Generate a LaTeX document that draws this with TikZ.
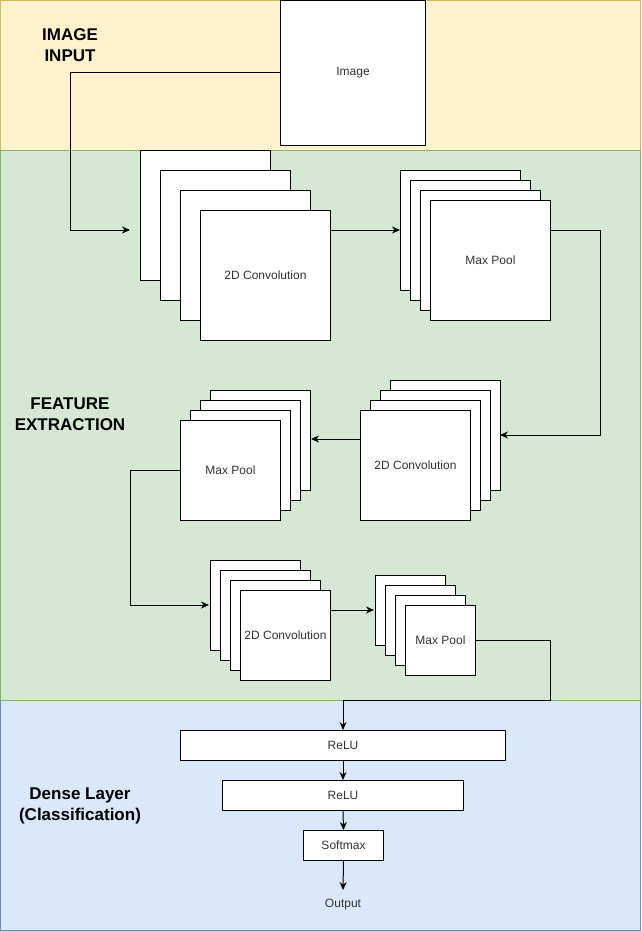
\documentclass[tikz,border=0pt]{standalone}
\usepackage{fontspec}
\setmainfont{Liberation Sans}
\usetikzlibrary{arrows.meta,calc}
\definecolor{yband}{HTML}{FFF2CC}\definecolor{yline}{HTML}{D6B656}
\definecolor{gband}{HTML}{D5E8D4}\definecolor{gline}{HTML}{82B366}
\definecolor{bband}{HTML}{DAE8FC}\definecolor{bline}{HTML}{6C8EBF}
\definecolor{lbl}{HTML}{333333}
\tikzset{
  box/.style={draw=black, fill=white, line width=1pt, inner sep=0pt, anchor=north west,
    text=lbl, font=\fontsize{12}{14}\selectfont},
  band/.style={line width=1pt},
  header/.style={font=\fontsize{17}{21}\selectfont\bfseries, align=center, text=black},
  arr/.style={line width=1pt, -{Stealth[length=8pt,width=7pt]}},
  plain/.style={text=lbl, font=\fontsize{12}{14}\selectfont, inner sep=0pt}
}
\begin{document}
\begin{tikzpicture}[x=1pt,y=-1pt]
\useasboundingbox (0,0) rectangle (641,931);
% bands
\fill[yband] (0,0) rectangle (641,150);
\draw[band,yline] (0.5,0.5) rectangle (640.5,150);
\fill[bband] (0,700) rectangle (641,931);
\draw[band,bline] (0.5,700) rectangle (640.5,930.5);
\fill[gband] (0,150) rectangle (641,700);
\draw[band,gline] (0.5,150) rectangle (640.5,700);
% headers
\node[header] (h1) at (70,45) {IMAGE\\INPUT};
\node[header] (h2) at (70,414) {FEATURE\\EXTRACTION};
\node[header] (h3) at (80,806) {Dense Layer\\(Classification)};
% image
\node[box, minimum width=145pt, minimum height=145pt] (img) at (280,0) {Image};
% conv1 stack
\node[box, minimum width=130pt, minimum height=130pt] (c1a) at (140,150) {};
\node[box, minimum width=130pt, minimum height=130pt] (c1b) at (160,170) {};
\node[box, minimum width=130pt, minimum height=130pt] (c1c) at (180,190) {};
\node[box, minimum width=130pt, minimum height=130pt] (c1) at (200,210) {2D Convolution};
% maxpool1 stack
\node[box, minimum width=120pt, minimum height=120pt] (m1a) at (400,170) {};
\node[box, minimum width=120pt, minimum height=120pt] (m1b) at (410,180) {};
\node[box, minimum width=120pt, minimum height=120pt] (m1c) at (420,190) {};
\node[box, minimum width=120pt, minimum height=120pt] (m1) at (430,200) {Max Pool};
% conv2 stack
\node[box, minimum width=110pt, minimum height=110pt] (c2a) at (390,380) {};
\node[box, minimum width=110pt, minimum height=110pt] (c2b) at (380,390) {};
\node[box, minimum width=110pt, minimum height=110pt] (c2c) at (370,400) {};
\node[box, minimum width=110pt, minimum height=110pt] (c2) at (360,410) {2D Convolution};
% maxpool2 stack
\node[box, minimum width=100pt, minimum height=100pt] (m2a) at (210,390) {};
\node[box, minimum width=100pt, minimum height=100pt] (m2b) at (200,400) {};
\node[box, minimum width=100pt, minimum height=100pt] (m2c) at (190,410) {};
\node[box, minimum width=100pt, minimum height=100pt] (m2) at (180,420) {Max Pool};
% conv3 stack
\node[box, minimum width=90pt, minimum height=90pt] (c3a) at (210,560) {};
\node[box, minimum width=90pt, minimum height=90pt] (c3b) at (220,570) {};
\node[box, minimum width=90pt, minimum height=90pt] (c3c) at (230,580) {};
\node[box, minimum width=90pt, minimum height=90pt] (c3) at (240,590) {2D Convolution};
% maxpool3 stack
\node[box, minimum width=70pt, minimum height=70pt] (m3a) at (375,575) {};
\node[box, minimum width=70pt, minimum height=70pt] (m3b) at (385,585) {};
\node[box, minimum width=70pt, minimum height=70pt] (m3c) at (395,595) {};
\node[box, minimum width=70pt, minimum height=70pt] (m3) at (405,605) {Max Pool};
% dense
\node[box, minimum width=325pt, minimum height=30pt] (r1) at (180,730) {ReLU};
\node[box, minimum width=241pt, minimum height=30pt] (r2) at (222,780) {ReLU};
\node[box, minimum width=80pt, minimum height=30pt] (sm) at (303,830) {Softmax};
\node[plain] (out) at (343,905) {Output};
% coordinates
\coordinate (c1in) at (130,230);
\coordinate (m1in) at (400,230);
\coordinate (t1) at (600,435);
\coordinate (c2in) at (500,435);
\coordinate (m2in) at (311,439);
\coordinate (t2) at (130,605);
\coordinate (c3in) at (209,605);
\coordinate (m3in) at (374,610);
\coordinate (t3) at (550,700);
\coordinate (t0) at (70,230);
\coordinate (outin) at (343,890);
% connectors
\draw[arr] (img.west) -| (t0) -- (c1in);
\draw[arr] (c1.east |- m1in) -- (m1in);
\draw[arr] (m1.east |- m1in) -| (t1) -- (c2in);
\draw[arr] (c2.west |- m2in) -- (m2in);
\draw[arr] (m2.west) -| (t2) -- (c3in);
\draw[arr] (c3.east |- m3in) -- (m3in);
\draw[arr] (m3.east) -| (t3) -| (r1.north);
\draw[arr] (r1.south) -- (r2.north);
\draw[arr] (r2.south) -- (sm.north);
\draw[arr] (sm.south) -- (outin);
\end{tikzpicture}
\end{document}
